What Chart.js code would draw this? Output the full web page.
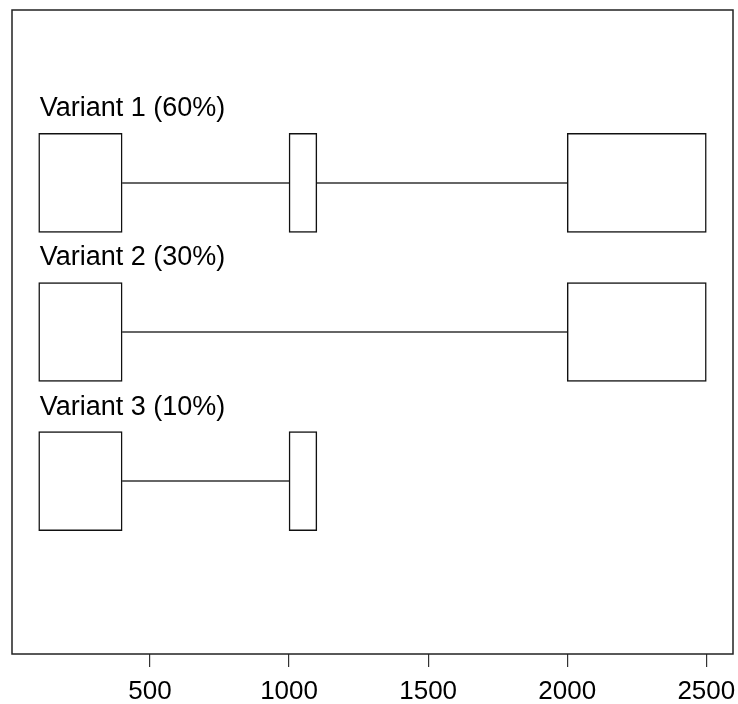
<!DOCTYPE html>
<html>
<head>
<meta charset="utf-8">
<script src="https://cdn.jsdelivr.net/npm/chart.js@4/dist/chart.umd.min.js"></script>
<style>
html,body{margin:0;padding:0;background:#fff;}
#wrap{width:738px;height:704px;}
</style>
</head>
<body>
<div id="wrap"><canvas id="c" width="738" height="704"></canvas></div>
<script>
// Data
const variantLabels = ['Variant 1 (60%)', 'Variant 2 (30%)', 'Variant 3 (10%)'];
const variantRows = [1, 2, 3];
const exonStarts = [[100, 1000, 2000], [100, 2000], [100, 1000]];
const exonEnds = [[400, 1100, 2500], [400, 2500], [400, 1100]];
const xTicks = [500, 1000, 1500, 2000, 2500];
const xRange = [4, 2596];
const yRange = [-0.16, 4.16];

const FONT = '"Liberation Sans", Arial, Helvetica, sans-serif';

const datasets = [];
variantRows.forEach((row, i) => {
  // exons
  datasets.push({
    type: 'bar',
    data: exonStarts[i].map((s, k) => ({ y: row, x: [s, exonEnds[i][k]] })),
    backgroundColor: '#ffffff',
    borderColor: '#111111',
    borderWidth: 1.5,
    borderSkipped: false,
    barThickness: 99,
    grouped: false
  });
  // introns
  for (let k = 0; k < exonStarts[i].length - 1; k++) {
    datasets.push({
      type: 'line',
      data: [{ x: exonEnds[i][k], y: row }, { x: exonStarts[i][k + 1], y: row }],
      borderColor: '#333333',
      borderWidth: 1.5,
      pointRadius: 0,
      fill: false,
      order: 10
    });
  }
});

const framePlugin = {
  id: 'frame',
  afterDraw(chart) {
    const { ctx, chartArea: a, scales } = chart;
    ctx.save();
    ctx.strokeStyle = '#222';
    ctx.lineWidth = 1.5;
    ctx.strokeRect(a.left, a.top, a.right - a.left, a.bottom - a.top);
    ctx.fillStyle = '#000';
    ctx.textBaseline = 'alphabetic';
    // x tick labels
    ctx.font = '26px ' + FONT;
    ctx.textAlign = 'center';
    scales.x.ticks.forEach(t => {
      ctx.fillText(String(t.value), scales.x.getPixelForValue(t.value), 699);
    });
    // variant labels
    ctx.font = '27px ' + FONT;
    ctx.textAlign = 'left';
    variantRows.forEach((row, i) => {
      const px = scales.x.getPixelForValue(exonStarts[i][0]);
      const py = scales.y.getPixelForValue(row - 0.5);
      ctx.fillText(variantLabels[i], px + 1, py + 8);
    });
    ctx.restore();
  }
};

new Chart(document.getElementById('c'), {
  data: { datasets },
  options: {
    indexAxis: 'y',
    responsive: false,
    animation: false,
    layout: { padding: { left: 12, right: 5, top: 10, bottom: 0 } },
    plugins: { legend: { display: false }, tooltip: { enabled: false } },
    scales: {
      x: {
        type: 'linear',
        min: xRange[0],
        max: xRange[1],
        offset: false,
        afterBuildTicks(scale) { scale.ticks = xTicks.map(v => ({ value: v })); },
        afterFit(scale) { scale.height = 50; scale.paddingLeft = 0; scale.paddingRight = 0; },
        grid: { display: true, drawOnChartArea: false, drawTicks: true, tickLength: 13, color: '#333', lineWidth: 1.2 },
        border: { display: false },
        ticks: { display: false }
      },
      y: {
        type: 'linear',
        display: false,
        offset: false,
        min: yRange[0],
        max: yRange[1],
        reverse: true
      }
    }
  },
  plugins: [framePlugin]
});
</script>
</body>
</html>
